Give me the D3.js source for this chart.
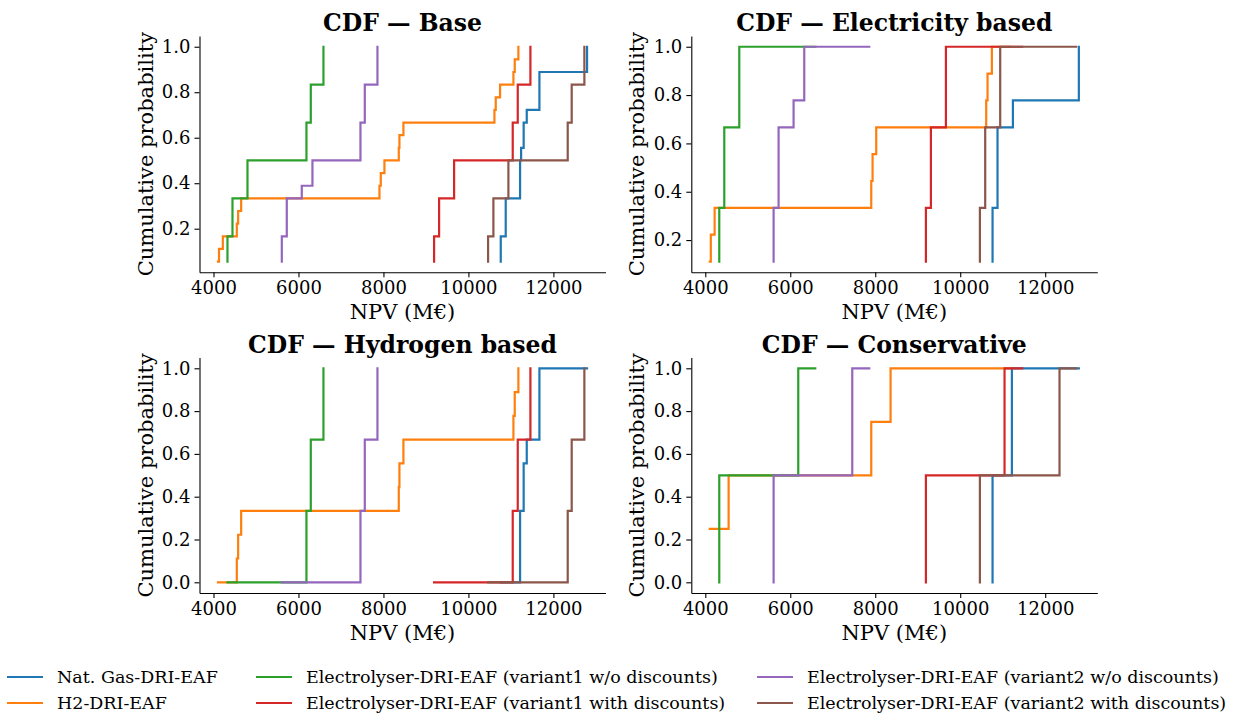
<!DOCTYPE html>
<html><head><meta charset="utf-8">
<script src="https://cdn.jsdelivr.net/npm/d3@7/dist/d3.min.js"></script>
<style>
body{margin:0;background:#fff;}
svg{display:block;font-family:"DejaVu Serif", serif;}
</style></head><body>
<svg id="chart" width="1234" height="715"></svg>
<script>
// ---------- data ----------
const techNames = [
  "Nat. Gas-DRI-EAF",
  "H2-DRI-EAF",
  "Electrolyser-DRI-EAF (variant1 w/o discounts)",
  "Electrolyser-DRI-EAF (variant1 with discounts)",
  "Electrolyser-DRI-EAF (variant2 w/o discounts)",
  "Electrolyser-DRI-EAF (variant2 with discounts)"
];
const techColors = ["#1f77b4","#ff7f0e","#2ca02c","#d62728","#9467bd","#8c564b"];

// NPV samples (M€), sorted, 18 scenario runs per technology
const npvNatGas   = [10761,10761,10761,10878,10878,10878,11216,11216,11216,11240,11300,11300,11373,11671,11671,11671,12792,12792];
const npvH2       = [4105,4130,4220,4549,4580,4651,7906,7937,8023,8361,8376,8470,10612,10643,10745,11059,11090,11176];
const npvElV1     = [4329,4329,4329,4447,4447,4447,4800,4800,4800,6188,6188,6188,6290,6290,6290,6588,6588,6588];
const npvElV1Disc = [9192,9192,9192,9310,9310,9310,9663,9663,9663,11043,11043,11043,11161,11161,11161,11459,11459,11459];
const npvElV2     = [5608,5608,5608,5725,5725,5725,6078,6329,6329,7459,7459,7459,7561,7561,7561,7859,7859,7859];
const npvElV2Disc = [10463,10463,10463,10588,10588,10588,10941,10941,10941,12337,12337,12337,12431,12431,12431,12729,12729,12729];
const npvSamples = [npvNatGas, npvH2, npvElV1, npvElV1Disc, npvElV2, npvElV2Disc];

const panelTitles = ["CDF — Base","CDF — Electricity based","CDF — Hydrogen based","CDF — Conservative"];

// scenario weights (which runs belong to each scenario), per technology
const weightsBase = [
  [1,1,1,1,1,1,1,1,1,1,1,1,1,1,1,1,1,1],
  [1,1,1,1,1,1,1,1,1,1,1,1,1,1,1,1,1,1],
  [1,1,1,1,1,1,1,1,1,1,1,1,1,1,1,1,1,1],
  [1,1,1,1,1,1,1,1,1,1,1,1,1,1,1,1,1,1],
  [1,1,1,1,1,1,1,1,1,1,1,1,1,1,1,1,1,1],
  [1,1,1,1,1,1,1,1,1,1,1,1,1,1,1,1,1,1]
];
const weightsElectricity = [
  [1,1,1,1,1,1,0,0,0,1,0,0,0,0,0,0,1,1],
  [1,1,1,0,0,0,1,1,1,0,0,0,1,1,1,0,0,0],
  [1,1,1,1,1,1,1,1,1,0,0,0,0,0,0,0,0,0],
  [1,1,1,1,1,1,1,1,1,0,0,0,0,0,0,0,0,0],
  [1,1,1,1,1,1,1,1,1,0,0,0,0,0,0,0,0,0],
  [1,1,1,1,1,1,1,1,1,0,0,0,0,0,0,0,0,0]
];
const weightsHydrogen = [
  [0,0,0,0,0,0,1,1,1,0,1,1,1,1,1,1,0,0],
  [0,0,0,1,1,1,0,0,0,1,1,1,0,0,0,1,1,1],
  [0,0,0,0,0,0,0,0,0,1,1,1,1,1,1,1,1,1],
  [0,0,0,0,0,0,0,0,0,1,1,1,1,1,1,1,1,1],
  [0,0,0,0,0,0,0,0,0,1,1,1,1,1,1,1,1,1],
  [0,0,0,0,0,0,0,0,0,1,1,1,1,1,1,1,1,1]
];
const weightsConservative = [
  [0,1,1,0,0,0,0,1,1,0,0,0,0,0,0,0,0,0],
  [1,0,0,1,0,0,1,0,0,1,0,0,0,0,0,0,0,0],
  [0,1,1,0,0,0,0,0,0,0,1,1,0,0,0,0,0,0],
  [0,1,1,0,0,0,0,0,0,0,1,1,0,0,0,0,0,0],
  [0,1,1,0,0,0,0,0,0,0,1,1,0,0,0,0,0,0],
  [0,1,1,0,0,0,0,0,0,0,1,1,0,0,0,0,0,0]
];
const panelWeights = [weightsBase, weightsElectricity, weightsHydrogen, weightsConservative];
const xTickValues = [4000,6000,8000,10000,12000];
const yTickValues = [0.0,0.2,0.4,0.6,0.8,1.0];

// ---------- layout ----------
const svg = d3.select("#chart");
const colLeft = [199.5, 691.3], axW = 406;
const rowTop = [36, 357.6], axH = [236.3, 235.4];

function ecdf(samples, weights){
  const total = d3.sum(weights);
  let c = 0;
  return samples.map((x,i)=>{ c += weights[i]; return [x, c/total]; });
}

panelTitles.forEach((title, p)=>{
  const col = p % 2, row = Math.floor(p/2);
  const left = colLeft[col], top = rowTop[row], h = axH[row];
  const curves = npvSamples.map((s,i)=>ecdf(s, panelWeights[p][i]));
  const allX = curves.flat().map(d=>d[0]);
  const allY = curves.flat().map(d=>d[1]);
  const [x0,x1] = d3.extent(allX), [y0,y1] = d3.extent(allY);
  const mx = (x1-x0)*0.05, my = (y1-y0)*0.05;
  const x = d3.scaleLinear().domain([x0-mx, x1+mx]).range([left, left+axW]);
  const y = d3.scaleLinear().domain([y0-my, y1+my]).range([top+h, top]);

  const g = svg.append("g");
  const line = d3.line().x(d=>x(d[0])).y(d=>y(d[1])).curve(d3.curveStepAfter);
  curves.forEach((c,i)=>{
    g.append("path").attr("d", line(c)).attr("fill","none")
      .attr("stroke", techColors[i]).attr("stroke-width", 2.2)
      .attr("stroke-linecap","square");
  });

  const xa = g.append("g").attr("transform",`translate(0,${top+h})`)
    .call(d3.axisBottom(x).tickValues(xTickValues).tickFormat(d3.format("d")).tickSize(5).tickSizeOuter(0).tickPadding(4));
  const yt = yTickValues.filter(v=>v>=y.domain()[0] && v<=y.domain()[1]);
  const ya = g.append("g").attr("transform",`translate(${left},0)`)
    .call(d3.axisLeft(y).tickValues(yt).tickFormat(d3.format(".1f")).tickSize(5).tickSizeOuter(0).tickPadding(4));
  [xa,ya].forEach(a=>{
    a.selectAll("path,line").attr("stroke","#000").attr("stroke-width",1.1);
    a.selectAll("text").attr("font-family","DejaVu Serif").attr("font-size",18).attr("fill","#000");
  });

  g.append("text").attr("x", left+axW/2).attr("y", top-5)
    .attr("text-anchor","middle").attr("font-weight","bold").attr("font-size",23.5)
    .attr("font-family","DejaVu Serif").text(title);
  g.append("text").attr("x", left+axW/2).attr("y", top+h+47)
    .attr("text-anchor","middle").attr("font-size",21).attr("font-family","DejaVu Serif").text("NPV (M€)");
  g.append("text").attr("transform",`translate(${left-47},${top+h/2}) rotate(-90)`)
    .attr("text-anchor","middle").attr("font-size",21).attr("font-family","DejaVu Serif").text("Cumulative probability");
});

// ---------- legend ----------
const legX = [57, 306, 807], legY = [677, 703];
techNames.forEach((name,i)=>{
  const c = Math.floor(i/2), r = i%2;
  const lg = svg.append("g");
  lg.append("line").attr("x1", legX[c]-50).attr("x2", legX[c]-14)
    .attr("y1", legY[r]).attr("y2", legY[r])
    .attr("stroke", techColors[i]).attr("stroke-width", 2.2);
  lg.append("text").attr("x", legX[c]).attr("y", legY[r]).attr("dy","0.35em")
    .attr("font-size",17.5).attr("font-family","DejaVu Serif").text(name);
});
</script>
</body></html>
